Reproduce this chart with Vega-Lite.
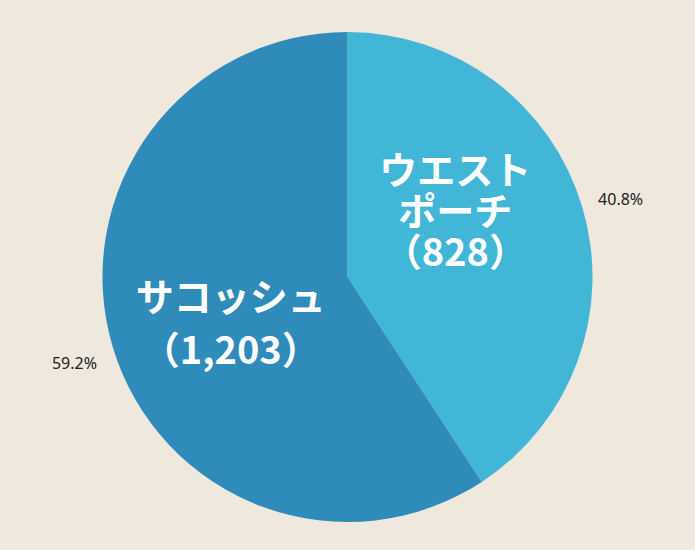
{
  "$schema": "https://vega.github.io/schema/vega-lite/v6.json",
  "width": 695,
  "height": 550,
  "autosize": {"type": "fit", "contains": "padding"},
  "padding": {"top": 4, "bottom": 0, "left": 0, "right": 0},
  "background": "#EEE8DD",
  "config": {"view": {"stroke": null}},
  "data": {
    "values": [
      {"item": "ウエストポーチ", "order": 1, "count": 828, "label": "ウエスト\nポーチ\n（828）", "pct": "40.8%"},
      {"item": "サコッシュ", "order": 2, "count": 1203, "label": "サコッシュ\n（1,203）", "pct": "59.2%"}
    ]
  },
  "encoding": {
    "theta": {"field": "count", "type": "quantitative", "stack": true},
    "order": {"field": "order", "type": "quantitative"}
  },
  "layer": [
    {
      "mark": {"type": "arc", "outerRadius": 245},
      "encoding": {
        "color": {
          "field": "item",
          "type": "nominal",
          "scale": {"domain": ["ウエストポーチ", "サコッシュ"], "range": ["#42B6D7", "#2E8BBA"]},
          "legend": null
        }
      }
    },
    {
      "mark": {"type": "text", "radius": 285, "dy": 5, "font": "Noto Sans", "fontSize": 16, "color": "#222222", "align": "center", "baseline": "middle"},
      "encoding": {"text": {"field": "pct"}}
    },
    {
      "mark": {"type": "text", "radius": 125, "dx": -12, "dy": -68, "font": "Noto Sans CJK JP", "fontWeight": "bold", "fontSize": 38, "lineHeight": 41, "lineBreak": "\n", "color": "white", "align": "center", "baseline": "middle"},
      "encoding": {
        "text": {"condition": {"test": "datum.order == 1", "field": "label"}, "value": ""}
      }
    },
    {
      "mark": {"type": "text", "radius": 125, "dx": 3, "dy": -13, "font": "Noto Sans CJK JP", "fontWeight": "bold", "fontSize": 38, "lineHeight": 53, "lineBreak": "\n", "color": "white", "align": "center", "baseline": "middle"},
      "encoding": {
        "text": {"condition": {"test": "datum.order == 2", "field": "label"}, "value": ""}
      }
    }
  ]
}
